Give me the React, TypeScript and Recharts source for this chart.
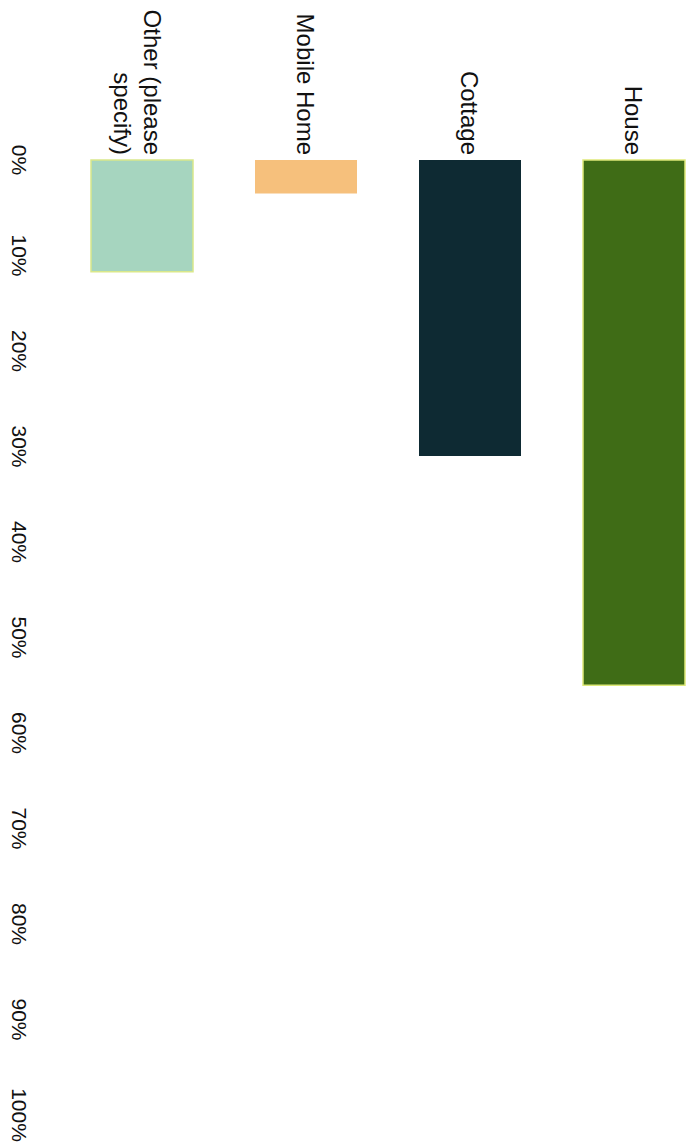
// Dwelling type chart - horizontal bars, whole chart turned 90deg clockwise like the scan
import { BarChart, Bar, XAxis, YAxis, Cell, Text } from 'recharts';

const categories = ['House', 'Cottage', 'Mobile Home', 'Other (please specify)'];
const shares = [55, 31, 3.5, 11.7];
const barColors = ['#3f6c16', '#0e2a33', '#f6c07c', '#a6d5bf'];
const barStrokes = ['#dfe97a', 'none', 'none', '#d9e88a'];
const valueTicks = [0, 10, 20, 30, 40, 50, 60, 70, 80, 90, 100];

const data = categories.map((name, i) => ({ name, value: shares[i] }));

// wrap long category names on words, ~13 chars a line
function wrapLabel(label: string, max = 13): string[] {
    const words = label.split(' ');
    const lines: string[] = [];
    let cur = '';
    words.forEach((w) => {
        const next = cur ? cur + ' ' + w : w;
        if (next.length > max && cur) {
            lines.push(cur);
            cur = w;
        } else {
            cur = next;
        }
    });
    if (cur) lines.push(cur);
    return lines;
}

function CategoryTick(props: any) {
    const { x, y, payload } = props;
    const lines = wrapLabel(String(payload.value));
    const offsets = lines.length === 1 ? [0] : [-11, 19];
    return (
        <g>
            {lines.map((line, i) => (
                <Text
                    key={i}
                    x={x}
                    y={y + offsets[i]}
                    textAnchor="end"
                    verticalAnchor="middle"
                    fontSize={24}
                    fill="#111"
                >
                    {line}
                </Text>
            ))}
        </g>
    );
}

export default function App() {
    return (
        <div
            style={{
                position: 'absolute',
                left: 0,
                top: 0,
                width: 691,
                height: 1148,
                overflow: 'hidden',
                background: '#fff',
                fontFamily: '"Liberation Sans", Arial, sans-serif',
            }}
        >
            <div
                style={{
                    width: 1148,
                    height: 691,
                    transformOrigin: '0 0',
                    transform: 'translate(691px, 0) rotate(90deg)',
                }}
            >
                <BarChart
                    width={1148}
                    height={691}
                    data={data}
                    layout="vertical"
                    margin={{ top: -25, right: 33, bottom: 30, left: 0 }}
                >
                    <XAxis
                        type="number"
                        domain={[0, 100]}
                        ticks={valueTicks}
                        tickFormatter={(v) => `${v}%`}
                        axisLine={false}
                        tickLine={false}
                        height={30}
                        tickSize={0}
                        tickMargin={33}
                        interval={0}
                        tick={{ fontSize: 21, fill: '#111' }}
                    />
                    <YAxis
                        type="category"
                        dataKey="name"
                        width={160}
                        axisLine={false}
                        tickLine={false}
                        tickSize={0}
                        tickMargin={5}
                        interval={0}
                        tick={<CategoryTick />}
                    />
                    <Bar dataKey="value" barSize={102} isAnimationActive={false}>
                        {data.map((_, i) => (
                            <Cell key={`cell-${i}`} fill={barColors[i]} stroke={barStrokes[i]} strokeWidth={1.5} />
                        ))}
                    </Bar>
                </BarChart>
            </div>
        </div>
    );
}
